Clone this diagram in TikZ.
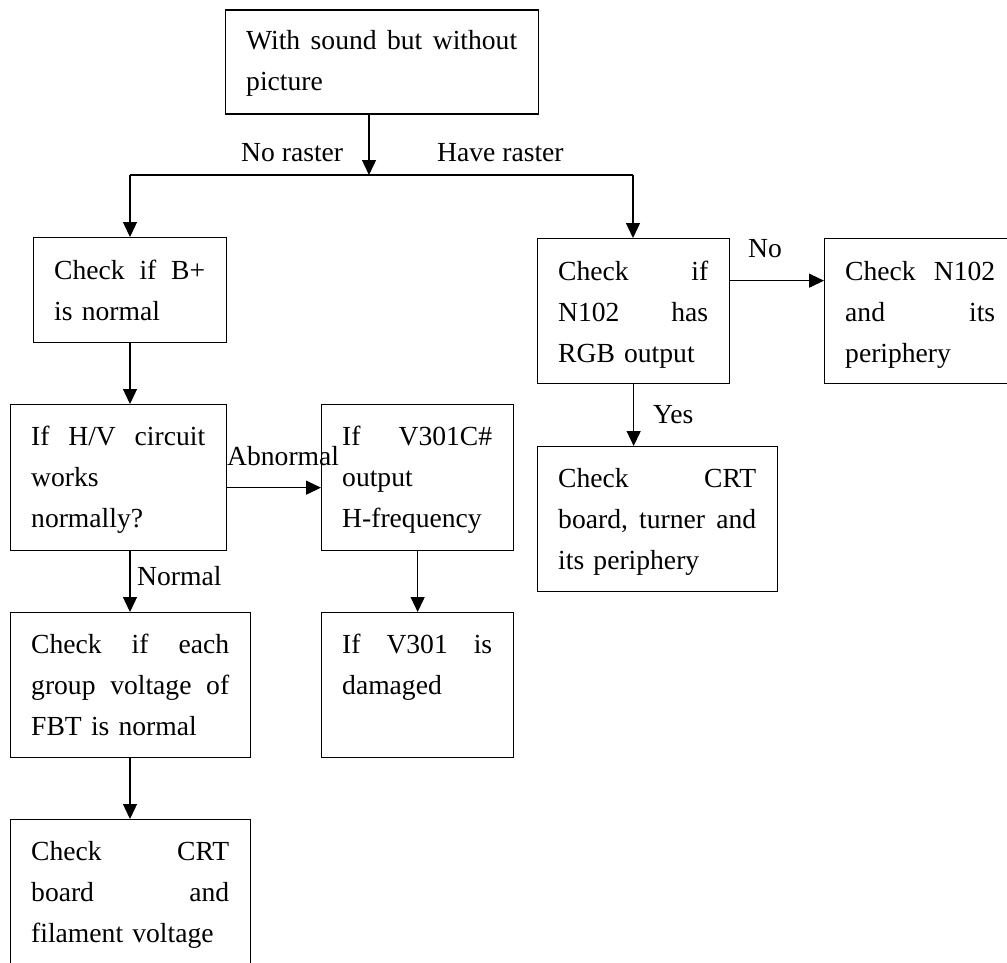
\documentclass[tikz,border=0pt]{standalone}
\usepackage{fontspec}
\setmainfont{Liberation Serif}
\usetikzlibrary{arrows.meta,calc}
\setlength{\parindent}{0pt}
\newcommand{\jl}[2]{\leavevmode\hbox to #1{#2}}
\newcommand{\fs}{\rule{0pt}{22pt}}
\begin{document}
\begin{tikzpicture}[x=1pt,y=-1pt,
  font=\fontsize{27.6}{41}\selectfont,
  box/.style={draw=black, line width=1.3pt, inner sep=0pt, anchor=north west, rectangle},
  txt/.style={inner sep=0pt, anchor=north west, align=left},
  lbl/.style={inner sep=0pt, anchor=base west},
  arr/.style={line width=1.3pt, -{Triangle[length=15pt,width=14pt]}},
  ln/.style={line width=1.3pt}]
\useasboundingbox (0,0) rectangle (1007,962);
\clip (0,0) rectangle (1007,962);
\fill[white] (0,0) rectangle (1007,962);
% boxes
\node[box, minimum width=313pt, minimum height=104pt] (T) at (225,9.3) {};
\node[box, minimum width=193pt, minimum height=105pt] (B) at (33,237) {};
\node[box, minimum width=216pt, minimum height=146pt] (HV) at (10,404) {};
\node[box, minimum width=192pt, minimum height=146pt] (Vc) at (321,404) {};
\node[box, minimum width=240pt, minimum height=145pt] (F) at (10,612) {};
\node[box, minimum width=192pt, minimum height=145pt] (Vd) at (321,612) {};
\node[box, minimum width=240pt, minimum height=160pt] (C1) at (10,819) {};
\node[box, minimum width=192pt, minimum height=145pt] (N) at (537,238) {};
\node[box, minimum width=192pt, minimum height=145pt] (P) at (824,238) {};
\node[box, minimum width=240pt, minimum height=145pt] (C2) at (537,446) {};
% texts
\node[txt, text width=271pt] (Tt) at ([xshift=21pt,yshift=-18pt]T.north west) {\fs\jl{271pt}{With\hfill sound\hfill but\hfill without}\\picture};
\node[txt, text width=151pt] (Bt) at ([xshift=21pt,yshift=-20pt]B.north west) {\fs\jl{151pt}{Check\hfill if\hfill B+}\\is normal};
\node[txt, text width=174pt] (HVt) at ([xshift=21pt,yshift=-19pt]HV.north west) {\fs\jl{174pt}{If\hfill H/V\hfill circuit}\\works\\normally?};
\node[txt, text width=150pt] (Vct) at ([xshift=21pt,yshift=-19pt]Vc.north west) {\fs\jl{150pt}{If\hfill V301C\#}\\output\\H-frequency};
\node[txt, text width=198pt] (Ft) at ([xshift=21pt,yshift=-19pt]F.north west) {\fs\jl{198pt}{Check\hfill if\hfill each}\\\jl{198pt}{group\hfill voltage\hfill of}\\FBT is normal};
\node[txt, text width=150pt] (Vdt) at ([xshift=21pt,yshift=-19pt]Vd.north west) {\fs\jl{150pt}{If\hfill V301\hfill is}\\damaged};
\node[txt, text width=198pt] (C1t) at ([xshift=21pt,yshift=-19pt]C1.north west) {\fs\jl{198pt}{Check\hfill CRT}\\\jl{198pt}{board\hfill and}\\filament voltage};
\node[txt, text width=150pt] (Nt) at ([xshift=21pt,yshift=-20pt]N.north west) {\fs\jl{150pt}{Check\hfill if}\\\jl{150pt}{N102\hfill has}\\RGB output};
\node[txt, text width=150pt] (Pt) at ([xshift=21pt,yshift=-20pt]P.north west) {\fs\jl{150pt}{Check\hfill N102}\\\jl{150pt}{and\hfill its}\\periphery};
\node[txt, text width=198pt] (C2t) at ([xshift=21pt,yshift=-19pt]C2.north west) {\fs\jl{198pt}{Check\hfill CRT}\\\jl{198pt}{board,\hfill turner\hfill and}\\its periphery};
% junction
\coordinate (j) at (369,175);
\coordinate (jl) at (130,175);
\coordinate (jr) at (633,175);
\draw[arr] (T.south -| j) -- (j);
\draw[ln] (jl) -- (jr);
\draw[arr] (jl) -- (B.north -| jl);
\draw[arr] (jr) -- (N.north -| jr);
\draw[arr] (B.south -| jl) -- (HV.north -| jl);
\draw[arr] (HV.south -| jl) -- (F.north -| jl);
\draw[arr] (F.south -| jl) -- (C1.north -| jl);
\draw[arr] ([yshift=-10pt]HV.east) -- ([yshift=-10pt]Vc.west);
\draw[arr] (Vc.south) -- (Vd.north);
\draw[arr] ([yshift=30.5pt]N.east) -- ([yshift=30.5pt]P.west);
\draw[arr] (N.south) -- (C2.north -| N.south);
% labels
\node[lbl] (l1) at (241,161.7) {No raster};
\node[lbl] (l2) at (437,161.7) {Have raster};
\node[lbl] (l3) at (227,465) {Abnormal};
\node[lbl] (l4) at (137,585) {Normal};
\node[lbl] (l5) at (748,257) {No};
\node[lbl] (l6) at (653,423) {Yes};
\end{tikzpicture}
\end{document}
